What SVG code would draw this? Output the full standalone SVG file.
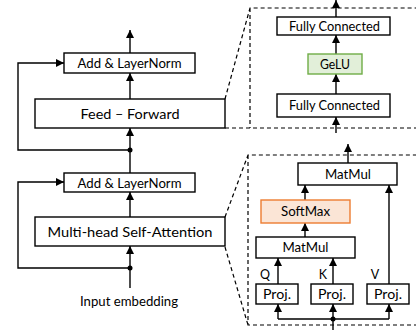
<svg xmlns="http://www.w3.org/2000/svg" width="416" height="330" viewBox="0 0 416 330">
<style>
.box{fill:#fff;stroke:#000;stroke-width:1.4}
.gelu{fill:#e2efd9;stroke:#70ad47;stroke-width:1.4}
.soft{fill:#fbe5d6;stroke:#ed7d31;stroke-width:1.4}
.t{font-family:Lato,"Liberation Sans",sans-serif;fill:#000;text-anchor:middle}
.l{font-size:14px}
.s{font-size:12.5px}
.c{fill:none;stroke:#000;stroke-width:1.4}
.a{marker-end:url(#ah)}
.d{fill:none;stroke:#000;stroke-width:1.2;stroke-dasharray:4 3}
.dot{fill:#000}
</style>
<defs>
<marker id="ah" markerUnits="userSpaceOnUse" markerWidth="8" markerHeight="8" viewBox="0 0 8 8" refX="8" refY="4" orient="auto">
<path d="M0,0 L8,4 L0,8 Z" fill="#000"/>
</marker>
</defs>
<g id="connectors">
<path class="c a" d="M130,288 V246"/>
<path class="c a" d="M130,268 H18 V182 H64"/>
<path class="c a" d="M130,217 V192"/>
<path class="c a" d="M130,173 V128"/>
<path class="c a" d="M130,150 H18 V63 H64"/>
<path class="c a" d="M130,99 V73"/>
<path class="c a" d="M130,53 V30"/>
<path class="c a" d="M336,133 V117"/>
<path class="c a" d="M336,94 V74"/>
<path class="c a" d="M336,54 V35"/>
<path class="c a" d="M336,17 V0"/>
<path class="c" d="M333,330 V319 M278,319 H389"/>
<path class="c a" d="M278,319 V304"/>
<path class="c a" d="M333,319 V304"/>
<path class="c a" d="M389,319 V304"/>
<path class="c a" d="M278,284 V258"/>
<path class="c a" d="M333,284 V258"/>
<path class="c a" d="M305,237 V223"/>
<path class="c a" d="M305,200 V185"/>
<path class="c a" d="M389,284 V185"/>
<path class="c a" d="M348,163 V144"/>
<circle class="dot" cx="130" cy="268" r="2.5"/>
<circle class="dot" cx="130" cy="150" r="2.5"/>
<circle class="dot" cx="333" cy="319" r="2.5"/>
</g>
<g id="zoom-outlines">
<path class="d" d="M225,99 L250,8 H416 M250,8 V128 M225,128 H416"/>
<path class="d" d="M225,217 L248,155 H416 M248,155 V325 H416 M225,247 L248,325"/>
</g>
<g id="addnorm2"><rect class="box" x="64" y="53" width="131" height="20"/><text class="t l" x="129.5" y="68" textLength="104" lengthAdjust="spacingAndGlyphs">Add &amp; LayerNorm</text></g>
<g id="feedforward"><rect class="box" x="35" y="99" width="190" height="29"/><text class="t l" x="130" y="118.5" textLength="99" lengthAdjust="spacingAndGlyphs">Feed – Forward</text></g>
<g id="addnorm1"><rect class="box" x="64" y="173" width="131" height="19"/><text class="t l" x="129.5" y="187.5" textLength="104" lengthAdjust="spacingAndGlyphs">Add &amp; LayerNorm</text></g>
<g id="mhsa"><rect class="box" x="35" y="217" width="190" height="29"/><text class="t l" x="130" y="236.5" textLength="165" lengthAdjust="spacingAndGlyphs">Multi-head Self-Attention</text></g>
<g id="input"><text class="t l" x="129" y="305.5" textLength="98" lengthAdjust="spacingAndGlyphs">Input embedding</text></g>
<g id="fc2"><rect class="box" x="277" y="17" width="113" height="18"/><text class="t s" x="334.5" y="30.5" textLength="91" lengthAdjust="spacingAndGlyphs">Fully Connected</text></g>
<g id="gelu"><rect class="gelu" x="308" y="54" width="54" height="20"/><text class="t s" x="335" y="68.5" textLength="30" lengthAdjust="spacingAndGlyphs">GeLU</text></g>
<g id="fc1"><rect class="box" x="277" y="94" width="113" height="23"/><text class="t s" x="334.5" y="110" textLength="91" lengthAdjust="spacingAndGlyphs">Fully Connected</text></g>
<g id="matmul2"><rect class="box" x="298" y="163" width="99" height="22"/><text class="t s" x="348" y="178.5" textLength="46" lengthAdjust="spacingAndGlyphs">MatMul</text></g>
<g id="softmax"><rect class="soft" x="261" y="200" width="89" height="23"/><text class="t s" x="305.5" y="216" textLength="49" lengthAdjust="spacingAndGlyphs">SoftMax</text></g>
<g id="matmul1"><rect class="box" x="256" y="237" width="99" height="21"/><text class="t s" x="305.5" y="252" textLength="46" lengthAdjust="spacingAndGlyphs">MatMul</text></g>
<g id="projq"><rect class="box" x="256" y="284" width="42" height="20"/><text class="t s" x="277" y="298.5" textLength="28" lengthAdjust="spacingAndGlyphs">Proj.</text></g>
<g id="projk"><rect class="box" x="311" y="284" width="42" height="20"/><text class="t s" x="332" y="298.5" textLength="28" lengthAdjust="spacingAndGlyphs">Proj.</text></g>
<g id="projv"><rect class="box" x="367" y="284" width="42" height="20"/><text class="t s" x="388" y="298.5" textLength="28" lengthAdjust="spacingAndGlyphs">Proj.</text></g>
<g id="labels">
<text class="t s" x="265" y="279">Q</text>
<text class="t s" x="323" y="279">K</text>
<text class="t s" x="375" y="279">V</text>
</g>
</svg>
